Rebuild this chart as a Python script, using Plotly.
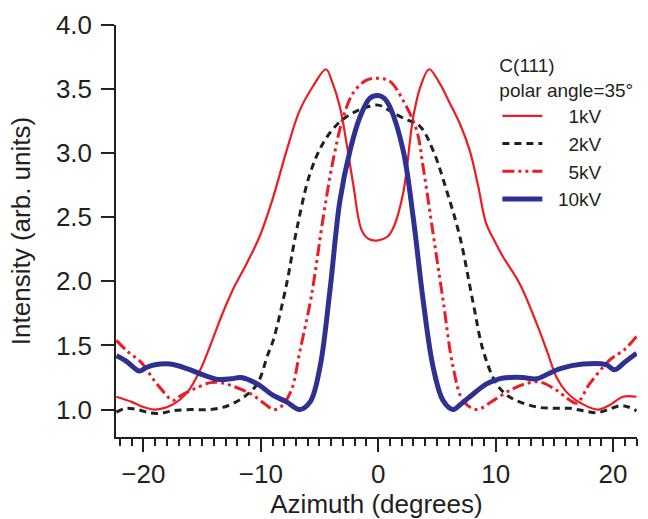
import plotly.graph_objects as go

# ---- data ----
x_1kv = [-22.3, -21.0, -20.0, -19.0, -17.5, -16.3, -15.2, -14.3, -13.3, -12.3, -11.2, -10.1,
         -9.0, -7.8, -6.7, -5.5, -4.45, -3.9, -3.26, -2.7, -2.13, -1.41, -0.8, 0.0, 0.8, 1.3,
         2.13, 2.98, 3.6, 4.34, 5.2, 6.1, 7.0, 7.8, 8.5, 9.2, 10.0, 10.64, 12.06, 13.5, 14.4, 15.2,
         16.0, 16.9, 18.7, 19.8, 20.85, 22.0]
y_1kv = [1.10, 1.06, 1.02, 1.00, 1.04, 1.13, 1.30, 1.50, 1.74, 1.95, 2.14, 2.35,
         2.64, 3.02, 3.33, 3.53, 3.655, 3.55, 3.36, 3.08, 2.76, 2.40, 2.33, 2.32, 2.35, 2.42,
         2.69, 3.28, 3.52, 3.655, 3.55, 3.39, 3.22, 3.02, 2.75, 2.45, 2.30, 2.19, 1.98, 1.67, 1.45, 1.25,
         1.14, 1.07, 1.00, 1.04, 1.10, 1.10]

x_2kv = [-22.3, -21.5, -20.5, -19.5, -18.6, -17.5, -16.0, -14.3, -12.8, -11.4, -10.3, -9.4, -8.94,
         -7.8, -6.95, -5.81, -4.68, -3.26, -1.56, 0.0, 1.0, 2.2, 3.55, 4.68, 5.82, 6.95, 8.09, 8.94,
         10.07, 11.0, 11.78, 13.5, 15.0, 16.3, 17.5, 18.6, 19.6, 20.6, 21.3, 22.0]
y_2kv = [0.98, 1.01, 1.00, 0.975, 0.97, 0.99, 1.00, 1.00, 1.03, 1.10, 1.20, 1.43, 1.54,
         1.98, 2.40, 2.84, 3.08, 3.245, 3.34, 3.375, 3.33, 3.27, 3.21, 3.02, 2.71, 2.35, 1.83, 1.46,
         1.20, 1.11, 1.07, 1.02, 1.01, 1.01, 0.99, 0.975, 1.00, 1.03, 1.02, 0.99]

x_5kv = [-22.3, -21.3, -20.2, -19.1, -18.2, -17.5, -16.8, -15.7, -14.3, -13.4, -12.3, -10.8, -9.6,
         -8.9, -8.3, -7.4, -6.66, -5.7, -4.68, -3.83, -2.98, -2.13, -1.0, 0.0, 1.0, 2.13, 3.27, 3.83,
         4.68, 5.53, 6.38, 7.23, 8.37, 9.79, 11.2, 12.5, 13.76, 15.2, 16.2, 16.9, 18.0, 19.7, 21.0, 22.0]
y_5kv = [1.54, 1.45, 1.37, 1.23, 1.13, 1.07, 1.11, 1.16, 1.21, 1.21, 1.18, 1.12, 1.04,
         1.00, 1.02, 1.15, 1.46, 1.88, 2.50, 2.95, 3.28, 3.47, 3.57, 3.585, 3.56, 3.41, 3.18, 2.89,
         2.37, 1.85, 1.33, 1.07, 1.00, 1.07, 1.15, 1.20, 1.215, 1.15, 1.08, 1.05, 1.20, 1.385, 1.47, 1.57]

x_10kv = [-22.3, -21.5, -20.85, -20.35, -19.7, -19.0, -17.7, -16.3, -14.9, -13.6, -12.5, -11.7, -10.3,
          -8.94, -7.8, -6.7, -5.8, -4.96, -4.11, -3.26, -2.4, -1.56, -0.7, 0.0, 0.5, 1.0, 2.13, 2.98,
          3.83, 4.68, 5.53, 6.38, 7.0, 7.8, 9.23, 10.3, 11.2, 12.3, 13.5, 14.5, 15.5, 17.45, 19.4,
          20.15, 21.0, 22.0]
y_10kv = [1.42, 1.38, 1.33, 1.30, 1.33, 1.35, 1.355, 1.32, 1.27, 1.235, 1.24, 1.25, 1.20,
          1.11, 1.06, 1.00, 1.06, 1.33, 1.93, 2.63, 3.02, 3.28, 3.43, 3.45, 3.43, 3.36, 3.02, 2.50,
          1.85, 1.33, 1.07, 1.00, 1.04, 1.10, 1.20, 1.24, 1.25, 1.25, 1.24, 1.28, 1.32, 1.355, 1.35,
          1.31, 1.37, 1.44]

series_names = ["\u00a0\u00a0\u00a0\u00a01kV", "\u00a0\u00a0\u00a0\u00a02kV", "\u00a0\u00a0\u00a0\u00a05kV", "\u00a0\u00a010kV"]
legend_title = "C(111)<br>polar angle=35°"
x_title = "Azimuth (degrees)"
y_title = "Intensity (arb. units)"

RED = "#ED1C24"
BLACK = "#231F20"
BLUE = "#2E3192"
FONT = "Liberation Sans, Arial, sans-serif"

fig = go.Figure()
fig.add_trace(go.Scatter(x=x_1kv, y=y_1kv, name=series_names[0], mode="lines",
                         line=dict(color=RED, width=2.2, shape="spline", smoothing=1.0)))
fig.add_trace(go.Scatter(x=x_2kv, y=y_2kv, name=series_names[1], mode="lines",
                         line=dict(color=BLACK, width=3, dash="7px,5px", shape="spline", smoothing=1.0)))
fig.add_trace(go.Scatter(x=x_5kv, y=y_5kv, name=series_names[2], mode="lines",
                         line=dict(color=RED, width=3, dash="12px,4px,3px,4px,3px,4px",
                                   shape="spline", smoothing=1.0)))
fig.add_trace(go.Scatter(x=x_10kv, y=y_10kv, name=series_names[3], mode="lines",
                         line=dict(color=BLUE, width=5, shape="spline", smoothing=1.0)))

fig.update_layout(
    width=648, height=519,
    margin=dict(l=116, r=11, t=25, b=82, autoexpand=False),
    plot_bgcolor="white", paper_bgcolor="white",
    font=dict(family=FONT, color=BLACK, size=19),
    showlegend=True,
    legend=dict(
        x=0.732, y=0.945, xanchor="left", yanchor="top",
        bgcolor="rgba(0,0,0,0)",
        font=dict(family=FONT, size=19, color=BLACK),
        title=dict(text=legend_title, font=dict(family=FONT, size=19, color=BLACK)),
        itemwidth=40, tracegroupgap=0,
    ),
    xaxis=dict(
        range=[-22.33, 22.04], tick0=0, dtick=10, automargin=False,
        showline=True, linecolor=BLACK, linewidth=1.5, mirror=False,
        ticks="outside", ticklen=13, tickwidth=1.5, tickcolor=BLACK,
        minor=dict(ticks="outside", ticklen=7, tickwidth=1.5, tickcolor=BLACK, dtick=1, tick0=0),
        showgrid=False, zeroline=False,
        tickfont=dict(family=FONT, size=26, color=BLACK),
        title=dict(text=x_title, font=dict(family=FONT, size=26, color=BLACK), standoff=4),
    ),
    yaxis=dict(
        range=[0.786, 4.0], tick0=1.0, dtick=0.5, tickformat=".1f", automargin=False,
        showline=True, linecolor=BLACK, linewidth=1.5, mirror=False,
        ticks="outside", ticklen=13, tickwidth=1.5, tickcolor=BLACK,
        ticklabelstandoff=4,
        showgrid=False, zeroline=False,
        tickfont=dict(family=FONT, size=26, color=BLACK),
        title=dict(text=y_title, font=dict(family=FONT, size=26, color=BLACK), standoff=18),
    ),
)

fig.write_html("out.html", config={"displayModeBar": False},
               post_script="document.body.style.margin='0';")
